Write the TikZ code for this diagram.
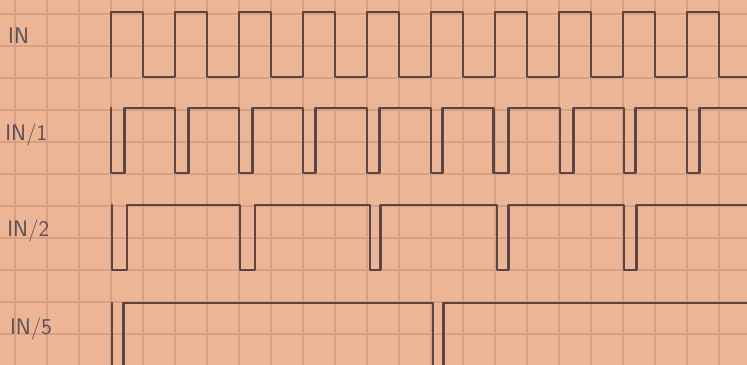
\documentclass[tikz,border=0pt]{standalone}
\usepackage{tikz}
\usetikzlibrary{arrows,calc,positioning}
\tikzset{>=latex}
\definecolor{eebbqq}{rgb}{0.925,0.71,0.59}
\definecolor{ddaaqq}{rgb}{0.855,0.62,0.5}
\definecolor{wwqqqq}{rgb}{0.35,0.27,0.27}
\definecolor{wwqqww}{rgb}{0.36,0.31,0.34}

\begin{document}
\begin{tikzpicture}[line cap=round,line join=round,x=1.0cm,y=1.0cm,
  wave/.style={line width=2.5pt,color=wwqqqq},
  gridln/.style={line width=1.8pt,color=ddaaqq},
  lbl/.style={anchor=base west,inner sep=0pt,color=wwqqww,font=\fontsize{20}{20}\sffamily}]
\useasboundingbox (0,0) rectangle (23.344,11.406);
\clip (0,0) rectangle (23.344,11.406);
\fill[color=eebbqq] (0,0) rectangle (23.344,11.406);
\draw [gridln,shift={(0.47,0.97)}] (-1,-1) grid (24,12);
% IN
\draw [wave] (3.47,9.0) -- (3.47,11.03) -- (4.47,11.03) -- (4.47,9.0) -- (5.47,9.0) -- (5.47,11.03) -- (6.47,11.03) -- (6.47,9.0) -- (7.47,9.0) -- (7.47,11.03) -- (8.47,11.03) -- (8.47,9.0) -- (9.47,9.0) -- (9.47,11.03) -- (10.47,11.03) -- (10.47,9.0) -- (11.47,9.0) -- (11.47,11.03) -- (12.47,11.03) -- (12.47,9.0) -- (13.47,9.0) -- (13.47,11.03) -- (14.47,11.03) -- (14.47,9.0) -- (15.47,9.0) -- (15.47,11.03) -- (16.47,11.03) -- (16.47,9.0) -- (17.47,9.0) -- (17.47,11.03) -- (18.47,11.03) -- (18.47,9.0) -- (19.47,9.0) -- (19.47,11.03) -- (20.47,11.03) -- (20.47,9.0) -- (21.47,9.0) -- (21.47,11.03) -- (22.47,11.03) -- (22.47,9.0) -- (23.6,9.0);
% IN/1
\draw [wave] (3.47,8.03) -- (3.47,6.0) -- (3.9,6.0) -- (3.9,8.03) -- (5.47,8.03) -- (5.47,6.0) -- (5.9,6.0) -- (5.9,8.03) -- (7.47,8.03) -- (7.47,6.0) -- (7.9,6.0) -- (7.9,8.03) -- (9.47,8.03) -- (9.47,6.0) -- (9.87,6.0) -- (9.87,8.03) -- (11.47,8.03) -- (11.47,6.0) -- (11.85,6.0) -- (11.85,8.03) -- (13.47,8.03) -- (13.47,6.0) -- (13.83,6.0) -- (13.83,8.03) -- (15.42,8.03) -- (15.42,6.0) -- (15.88,6.0) -- (15.88,8.03) -- (17.5,8.03) -- (17.5,6.0) -- (17.93,6.0) -- (17.93,8.03) -- (19.5,8.03) -- (19.5,6.0) -- (19.85,6.0) -- (19.85,8.03) -- (21.47,8.03) -- (21.47,6.0) -- (21.87,6.0) -- (21.87,8.03) -- (23.6,8.03);
% IN/2
\draw [wave] (3.5,5.0) -- (3.5,2.97) -- (3.97,2.97) -- (3.97,5.0) -- (7.5,5.0) -- (7.5,2.97) -- (7.97,2.97) -- (7.97,5.0) -- (11.56,5.0) -- (11.56,2.97) -- (11.88,2.97) -- (11.88,5.0) -- (15.53,5.0) -- (15.53,2.97) -- (15.9,2.97) -- (15.9,5.0) -- (19.5,5.0) -- (19.5,2.97) -- (19.9,2.97) -- (19.9,5.0) -- (23.6,5.0);
% IN/5
\draw [wave] (3.5,1.94) -- (3.5,-0.4) -- (3.85,-0.4) -- (3.85,1.94) -- (13.53,1.94) -- (13.53,-0.4) -- (13.85,-0.4) -- (13.85,1.94) -- (23.6,1.94);
\node [lbl] (lblIn) at (0.25,10.06) {IN};
\node [lbl] (lblDivOne) at (0.16,7.03) {IN/1};
\node [lbl] (lblDivTwo) at (0.22,4.0) {IN/2};
\node [lbl] (lblDivFive) at (0.31,0.94) {IN/5};
\end{tikzpicture}
\end{document}
